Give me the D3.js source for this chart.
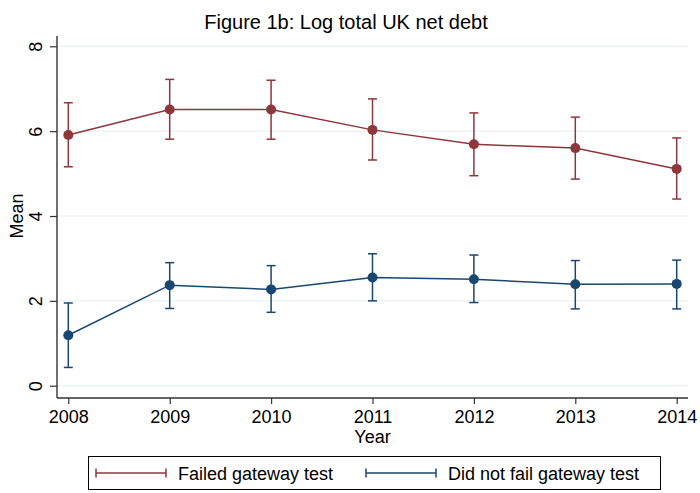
<!DOCTYPE html>
<html>
<head>
<meta charset="utf-8">
<script src="https://cdn.jsdelivr.net/npm/d3@7"></script>
<style>
  html, body { margin: 0; padding: 0; background: #fff; }
  svg { display: block; font-family: "Liberation Sans", Arial, Helvetica, sans-serif; }
</style>
</head>
<body>
<script>
// Yearly means with 95% confidence intervals, by gateway-test outcome
const years = [2008, 2009, 2010, 2011, 2012, 2013, 2014];
const yTicks = [0, 2, 4, 6, 8];

const failedMean = [5.91, 6.51, 6.51, 6.03, 5.69, 5.60, 5.11];
const failedLo   = [5.16, 5.81, 5.81, 5.32, 4.95, 4.87, 4.40];
const failedHi   = [6.67, 7.22, 7.20, 6.76, 6.43, 6.33, 5.84];

const passMean = [1.19, 2.37, 2.27, 2.55, 2.51, 2.39, 2.40];
const passLo   = [0.43, 1.82, 1.73, 2.00, 1.96, 1.81, 1.81];
const passHi   = [1.95, 2.90, 2.83, 3.11, 3.08, 2.95, 2.96];

const seriesNames = ["Failed gateway test", "Did not fail gateway test"];
const colors = ["#90353b", "#1a476f"];

const W = 700, H = 493;
const plot = { left: 57, right: 688, top: 36, bottom: 398 };

const svg = d3.select("body").append("svg")
  .attr("width", W).attr("height", H);

svg.append("rect").attr("width", W).attr("height", H).attr("fill", "#fff");

const x = d3.scaleLinear().domain([2008, 2014]).range([68.3, 676.7]);
const y = d3.scaleLinear().domain([0, 8]).range([385.7, 46.3]);

// Gridlines
svg.append("g").selectAll("line").data(yTicks).join("line")
  .attr("x1", plot.left).attr("x2", plot.right)
  .attr("y1", d => y(d)).attr("y2", d => y(d))
  .attr("stroke", "#eaf2f3").attr("stroke-width", 1.2);

// Y axis
const yAxis = svg.append("g")
  .attr("transform", `translate(${plot.left},0)`)
  .call(d3.axisLeft(y).tickValues(yTicks).tickSize(7).tickFormat(d3.format("d")));
yAxis.select(".domain").remove();
yAxis.selectAll(".tick line").attr("stroke", "#333").attr("stroke-width", 1.2);
yAxis.selectAll(".tick text")
  .attr("transform", "rotate(-90)")
  .attr("x", 0).attr("y", -15).attr("dy", 0)
  .attr("text-anchor", "middle")
  .attr("font-size", 18).attr("fill", "#000");

// X axis
const xAxis = svg.append("g")
  .attr("transform", `translate(0,${plot.bottom})`)
  .call(d3.axisBottom(x).tickValues(years).tickSize(6).tickFormat(d3.format("d")));
xAxis.select(".domain").remove();
xAxis.selectAll(".tick line").attr("stroke", "#333").attr("stroke-width", 1.2);
xAxis.selectAll(".tick text")
  .attr("y", 25).attr("dy", 0)
  .attr("font-size", 18).attr("fill", "#000");

// Axis lines
svg.append("line")
  .attr("x1", plot.left).attr("x2", plot.left)
  .attr("y1", plot.top).attr("y2", plot.bottom)
  .attr("stroke", "#333").attr("stroke-width", 1.4);
svg.append("line")
  .attr("x1", plot.left).attr("x2", plot.right)
  .attr("y1", plot.bottom).attr("y2", plot.bottom)
  .attr("stroke", "#333").attr("stroke-width", 1.4);

// Axis titles
svg.append("text")
  .attr("transform", `translate(23,${(y(0) + y(8)) / 2}) rotate(-90)`)
  .attr("text-anchor", "middle").attr("font-size", 18).text("Mean");
svg.append("text")
  .attr("x", (plot.left + plot.right) / 2).attr("y", 443)
  .attr("text-anchor", "middle").attr("font-size", 18).text("Year");

// Title
svg.append("text")
  .attr("x", 346).attr("y", 29)
  .attr("text-anchor", "middle").attr("font-size", 20)
  .text("Figure 1b: Log total UK net debt");

// Series
const series = [
  { mean: failedMean, lo: failedLo, hi: failedHi, color: colors[0] },
  { mean: passMean, lo: passLo, hi: passHi, color: colors[1] }
];
const capHalf = 4.5;

series.forEach(s => {
  const pts = years.map((yr, i) => ({ yr, m: s.mean[i], lo: s.lo[i], hi: s.hi[i] }));
  const g = svg.append("g");

  // Confidence interval caps
  const ci = g.append("g").attr("stroke", s.color).attr("stroke-width", 1.5).attr("fill", "none");
  ci.selectAll("line.v").data(pts).join("line").attr("class", "v")
    .attr("x1", d => x(d.yr)).attr("x2", d => x(d.yr))
    .attr("y1", d => y(d.lo)).attr("y2", d => y(d.hi));
  ci.selectAll("line.t").data(pts).join("line").attr("class", "t")
    .attr("x1", d => x(d.yr) - capHalf).attr("x2", d => x(d.yr) + capHalf)
    .attr("y1", d => y(d.hi)).attr("y2", d => y(d.hi));
  ci.selectAll("line.b").data(pts).join("line").attr("class", "b")
    .attr("x1", d => x(d.yr) - capHalf).attr("x2", d => x(d.yr) + capHalf)
    .attr("y1", d => y(d.lo)).attr("y2", d => y(d.lo));

  // Connected means
  g.append("path").datum(pts)
    .attr("fill", "none").attr("stroke", s.color).attr("stroke-width", 1.5)
    .attr("d", d3.line().x(d => x(d.yr)).y(d => y(d.m)));
  g.selectAll("circle").data(pts).join("circle")
    .attr("cx", d => x(d.yr)).attr("cy", d => y(d.m)).attr("r", 5)
    .attr("fill", s.color);
});

// Legend
const legend = svg.append("g");
legend.append("rect")
  .attr("x", 88.5).attr("y", 456.5).attr("width", 572).attr("height", 33)
  .attr("fill", "#fff").attr("stroke", "#000").attr("stroke-width", 1);
const keyPos = [{ x0: 96, x1: 166, tx: 178 }, { x0: 366, x1: 436, tx: 448 }];
const ly = 473;
seriesNames.forEach((name, i) => {
  const k = keyPos[i];
  const kg = legend.append("g").attr("stroke", colors[i]).attr("stroke-width", 1.5);
  kg.append("line").attr("x1", k.x0).attr("x2", k.x1).attr("y1", ly).attr("y2", ly);
  kg.append("line").attr("x1", k.x0).attr("x2", k.x0).attr("y1", ly - 4.5).attr("y2", ly + 4.5);
  kg.append("line").attr("x1", k.x1).attr("x2", k.x1).attr("y1", ly - 4.5).attr("y2", ly + 4.5);
  legend.append("text").attr("x", k.tx).attr("y", 479.5)
    .attr("font-size", 18).text(name);
});
</script>
</body>
</html>
